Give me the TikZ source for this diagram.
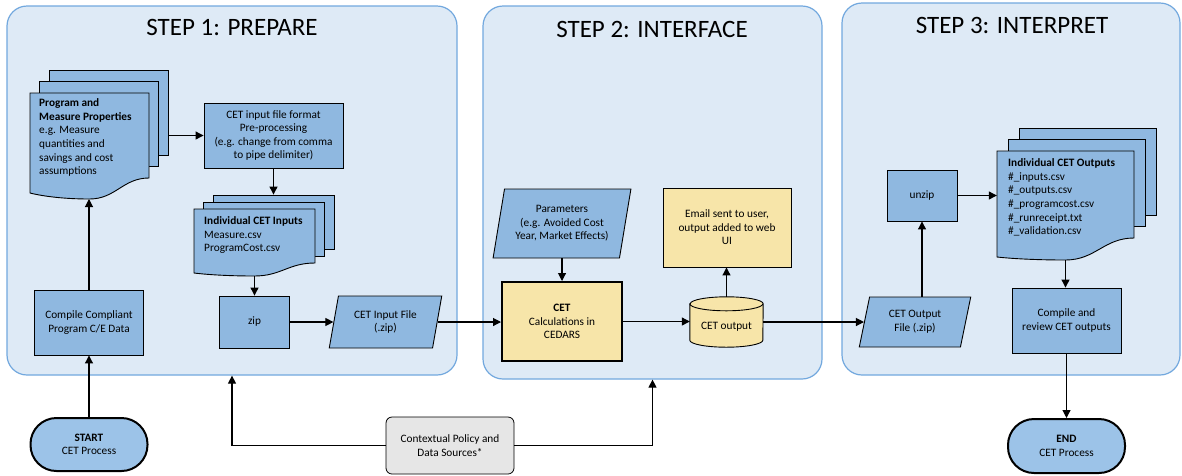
\documentclass[tikz,border=0pt]{standalone}
\usepackage{fontspec}
\setmainfont{Carlito}
\usetikzlibrary{arrows.meta,shapes.geometric,fit,calc}

\definecolor{panelfill}{HTML}{DEEAF6}
\definecolor{panelline}{HTML}{72A8DE}
\definecolor{boxblue}{HTML}{8FB8E0}
\definecolor{termblue}{HTML}{9CC3E8}
\definecolor{calcyellow}{HTML}{F7E5A9}
\definecolor{ctxgray}{HTML}{E6E6E6}

% Stack of three document pages: name, left x, top y, right x,
% bottom-left y, bottom-right y, page offset x, page offset y, wave depth
\newcommand{\docstack}[9]{%
  \node[page, fit={({#2+2*#7},{#3-2*#8}) ({#4+2*#7},{#6-2*#8})}] (#1-back) {};
  \node[page, fit={({#2+#7},{#3-#8}) ({#4+#7},{#6-#8})}] (#1-mid) {};
  \path[page] (#2,#3) -- (#4,#3) -- (#4,#6)
    .. controls ({#4-0.22*(#4-#2)},#6) and ({(#2+#4)/2+0.22*(#4-#2)},{#5+#9}) ..
    ({(#2+#4)/2},{#5+#9})
    .. controls ({#2+0.3*(#4-#2)},{#5+#9}) and ({#2+0.12*(#4-#2)},{#5+0.6*#9}) ..
    (#2,#5) -- cycle;
  \node[fit={(#2,#3) (#4,#6)}, inner sep=0] (#1) {};
  \coordinate (#1-foot) at ({(#2+#4)/2},{#5+#9});
}

\begin{document}
\begin{tikzpicture}[x=1pt,y=-1pt,
  font=\fontsize{11.3}{13.6}\selectfont,
  panel/.style={draw=panelline, fill=panelfill, line width=1.2pt, rounded corners=20pt, inner sep=0},
  title/.style={font=\fontsize{25}{29}\selectfont, inner sep=0},
  procbox/.style={draw=black, fill=boxblue, line width=0.9pt, align=center, inner sep=2pt},
  calcbox/.style={draw=black, fill=calcyellow, align=center, inner sep=2pt},
  iobox/.style={trapezium, trapezium left angle=76, trapezium right angle=104,
    trapezium stretches=true, draw=black, fill=boxblue, line width=0.9pt,
    align=center, inner sep=1pt},
  terminal/.style={draw=black, fill=termblue, line width=2pt, rounded corners=26pt, align=center},
  page/.style={draw=black, fill=boxblue, line width=0.9pt, inner sep=0},
  doctext/.style={anchor=north west, align=left, inner sep=0},
  flow/.style={line width=1.1pt, -{Triangle[length=8pt,width=8pt]}},
  plain/.style={line width=1.1pt},
]
\useasboundingbox (0,0) rectangle (1182,475);

% ---------- the three stages ----------
\node[panel, minimum width=450, minimum height=369] (p1) at (232,190.5) {};
\node[panel, minimum width=339, minimum height=373] (p2) at (652.5,192.5) {};
\node[panel, minimum width=338, minimum height=372] (p3) at (1011,189) {};
\node[title] (t1) at (232,27.5) {STEP 1: PREPARE};
\node[title] (t2) at (652,29.5) {STEP 2: INTERFACE};
\node[title] (t3) at (1012,25) {STEP 3: INTERPRET};

% ---------- step 1 ----------
\docstack{props}{30}{93}{149}{193}{178}{9.5}{11.5}{6}
\node[doctext] (props-text) at (39,98.5) {\textbf{Program and}\\\textbf{Measure Properties}\\e.g. Measure\\quantities and\\savings and cost\\assumptions};

\node[procbox, minimum width=139, minimum height=65] (prep) at (273.5,135.5)
  {CET input file format\\Pre-processing\\(e.g. change from comma\\to pipe delimiter)};

\docstack{inputs}{194}{209}{315}{273}{263}{9.5}{7}{3}
\node[doctext] (inputs-text) at (204,216.5) {\textbf{Individual CET Inputs}\\Measure.csv\\ProgramCost.csv};

\node[procbox, minimum width=70, minimum height=52] (zip) at (254.5,322) {zip};
\node[iobox, minimum width=113, minimum height=52] (cetin) at (385.5,322) {CET Input File\\(.zip)};

\node[procbox, minimum width=109, minimum height=65] (compile) at (89,322.5) {Compile Compliant\\Program C/E Data};
\node[terminal, minimum width=117, minimum height=53] (start) at (89,444.5) {\textbf{START}\\CET Process};

\node[draw=black, fill=ctxgray, line width=0.8pt, rounded corners=6pt, align=center,
  minimum width=128, minimum height=57] (ctx) at (450,445.5) {Contextual Policy and\\Data Sources*};

% ---------- step 2 ----------
\node[iobox, minimum width=138, minimum height=69] (params) at (562,223.5)
  {Parameters\\(e.g. Avoided Cost\\Year, Market Effects)};
\node[calcbox, line width=2pt, minimum width=120, minimum height=79] (cet) at (562,321.5)
  {\textbf{CET}\\Calculations in\\CEDARS};
\node[calcbox, line width=0.9pt, minimum width=128, minimum height=79] (email) at (727,227.5)
  {Email sent to user,\\output added to web\\UI};

% CET output store drawn as a cylinder
\node[minimum width=73, minimum height=50, inner sep=0] (cyl) at (726.5,322) {};
\draw[fill=calcyellow, line width=0.9pt]
  ($(cyl.north west)+(0,7)$) -- ($(cyl.south west)+(0,-7)$)
  arc[start angle=180, end angle=360, x radius=36.5pt, y radius=7pt]
  -- ($(cyl.north east)+(0,7)$)
  arc[start angle=0, end angle=180, x radius=36.5pt, y radius=7pt] -- cycle;
\draw[line width=0.9pt] ($(cyl.north west)+(0,7)$)
  arc[start angle=180, end angle=360, x radius=36.5pt, y radius=7pt];
\node (cyl-label) at (726.5,327) {CET output};

% ---------- step 3 ----------
\node[iobox, minimum width=112, minimum height=50] (cetout) at (915,322) {CET Output\\File (.zip)};
\node[procbox, minimum width=70, minimum height=51] (unzip) at (922,195.5) {unzip};

\docstack{outs}{997}{151}{1134}{257}{238}{11}{11.5}{3}
\node[doctext] (outs-text) at (1008,158.5) {\textbf{Individual CET Outputs}\\\#\_inputs.csv\\\#\_outputs.csv\\\#\_programcost.csv\\\#\_runreceipt.txt\\\#\_validation.csv};

\node[procbox, minimum width=109, minimum height=65] (review) at (1066.5,320.5) {Compile and\\review CET outputs};
\node[terminal, minimum width=117, minimum height=54] (end) at (1066.5,446) {\textbf{END}\\CET Process};

% ---------- connectors ----------
\draw[flow] (start.north) -- (start.north |- compile.south);
\draw[flow] (compile.north) -- (compile.north |- props-foot);
\draw[flow] (props-back.east |- prep.west) -- (prep.west);
\draw[flow] (prep.south) -- (prep.south |- inputs-back.north);
\draw[flow] (inputs-foot) -- (inputs-foot |- zip.north);
\draw[flow] (zip.east) -- (zip.east -| cetin.west);
\draw[flow] (cetin.east) -- (cetin.east -| cet.west);
\draw[flow] (params.south) -- (params.south |- cet.north);
\draw[flow] (cet.east) -- (cet.east -| cyl.west);
\draw[flow] (cyl.north) -- (cyl.north |- email.south);
\draw[flow] (cyl.east) -- (cyl.east -| cetout.west);
\draw[flow] (unzip.south |- cetout.north) -- (unzip.south);
\draw[flow] (unzip.east) -- (unzip.east -| outs.west);
\draw[flow] (outs-foot) -- (outs-foot |- review.north);
\draw[flow] (review.south) -- (review.south |- end.north);
\draw[flow] (ctx.west) -| (p1.south);
\draw[flow] (ctx.east) -| (p2.south);
\end{tikzpicture}
\end{document}
